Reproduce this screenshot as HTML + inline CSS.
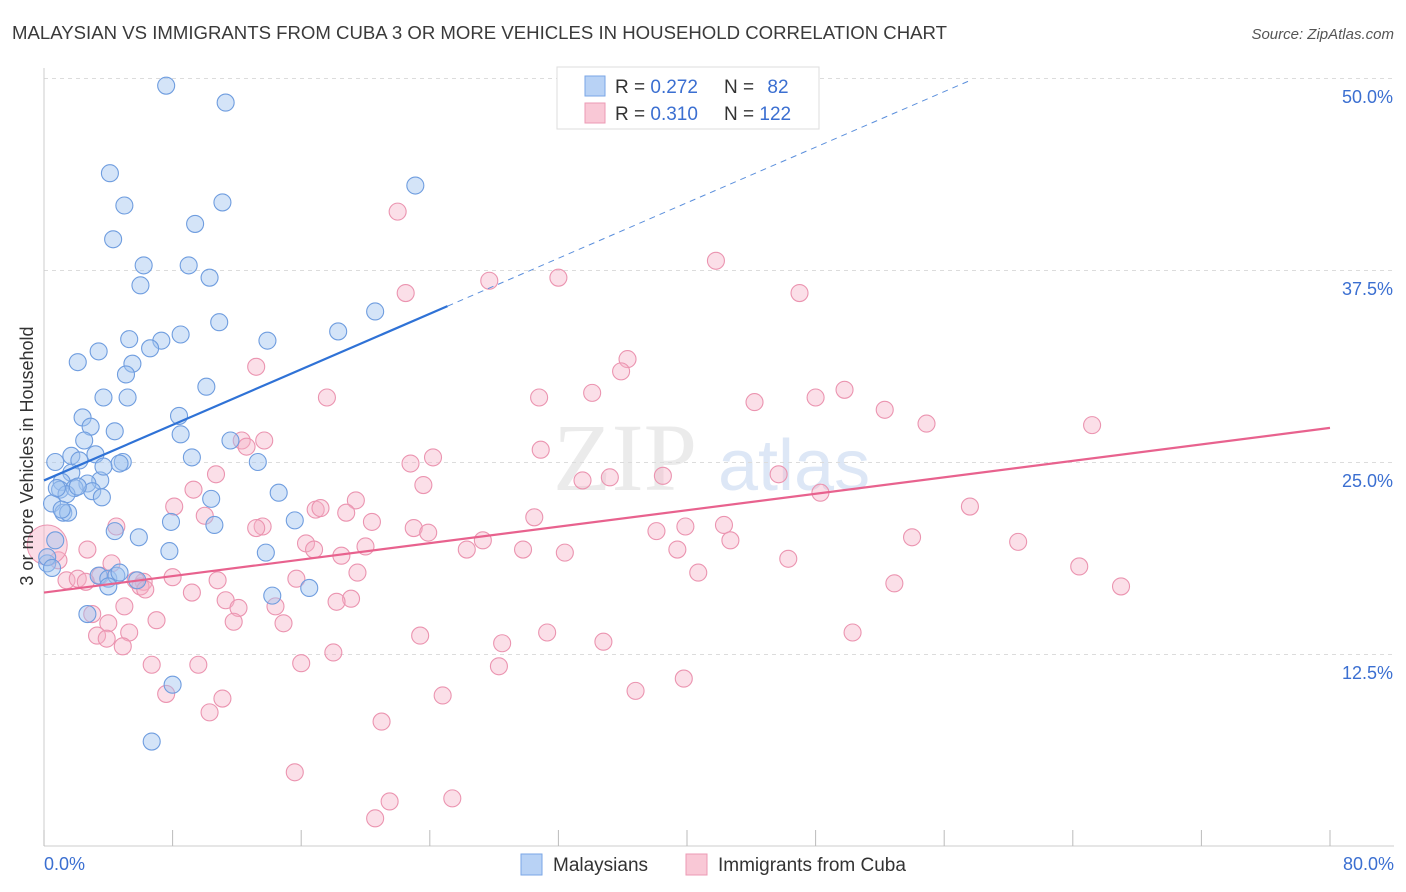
<!DOCTYPE html>
<html><head><meta charset="utf-8">
<style>
body{margin:0;background:#fff;font-family:"Liberation Sans",sans-serif;}
svg{display:block}
</style></head>
<body>
<svg id="chart" width="1406" height="892" viewBox="0 0 1406 892" xmlns="http://www.w3.org/2000/svg">
<text x="12" y="39" font-size="18.6" fill="#3a3a3a" font-family="Liberation Sans, sans-serif">MALAYSIAN VS IMMIGRANTS FROM CUBA 3 OR MORE VEHICLES IN HOUSEHOLD CORRELATION CHART</text>
<text x="1394" y="39" font-size="15" fill="#555" font-style="italic" text-anchor="end">Source: ZipAtlas.com</text>
<g>
<text x="553" y="490" font-size="96" fill="#ebebeb" font-family="Liberation Serif, serif">ZIP</text>
<text x="718" y="490" font-size="72" fill="#dde7f6" font-family="Liberation Sans, sans-serif">atlas</text>
</g>
<g id="grid"></g>
<g id="axes"></g>
<g id="pts"></g>
<g id="lines"></g>
<text transform="translate(33,456) rotate(-90)" font-size="18" fill="#333" text-anchor="middle">3 or more Vehicles in Household</text>
<text x="44" y="870" font-size="18" fill="#3b6fd1">0.0%</text>
<text x="1394" y="870" font-size="18" fill="#3b6fd1" text-anchor="end">80.0%</text>
<g>
<rect x="557" y="67" width="262" height="62" fill="#fff" stroke="#ddd"/>
<rect x="585" y="76" width="20" height="20" fill="#b8d2f5" stroke="#7aa6e6"/>
<rect x="585" y="103" width="20" height="20" fill="#f9c8d6" stroke="#ec9ab4"/>
<text x="615" y="93" font-size="19" fill="#333">R = <tspan fill="#3b6fd1">0.272</tspan></text>
<text x="724" y="93" font-size="19" fill="#333">N = <tspan fill="#3b6fd1" dx="8">82</tspan></text>
<text x="615" y="120" font-size="19" fill="#333">R = <tspan fill="#3b6fd1">0.310</tspan></text>
<text x="724" y="120" font-size="19" fill="#333">N = <tspan fill="#3b6fd1">122</tspan></text>
</g>
<g>
<rect x="521" y="854" width="21" height="21" fill="#b8d2f5" stroke="#7aa6e6"/>
<text x="553" y="871" font-size="19" fill="#333">Malaysians</text>
</g>
<g>
<rect x="686" y="854" width="21" height="21" fill="#f9c8d6" stroke="#ec9ab4"/>
<text x="718" y="871" font-size="19" fill="#333">Immigrants from Cuba</text>
</g>
</svg>
<script>
const yTicks=[12.5,25.0,37.5,50.0];
const xTickCount=10;
const blueX=[7.6,11.3,4.1,23.1,5.0,11.1,9.4,4.3,6.2,9.0,6.0,10.3,20.6,10.9,18.3,8.5,13.9,7.3,5.3,3.4,2.1,5.5,6.6,5.1,10.1,3.7,5.2,8.4,2.4,2.9,4.4,8.5,2.5,11.6,1.7,3.2,2.2,0.7,4.9,4.7,13.3,9.2,1.7,3.5,1.1,2.7,1.0,1.9,3.0,1.4,3.6,14.6,10.4,0.5,1.2,1.5,15.6,7.9,10.6,4.4,5.9,0.7,13.8,7.8,0.2,3.4,4.0,4.5,4.7,4.0,5.8,14.2,16.5,2.7,8.0,6.7,0.2,1.1,0.8,2.1,3.7,0.5];
const blueY=[49.5,48.4,43.8,43.0,41.7,41.9,40.5,39.5,37.8,37.8,36.5,37.0,34.8,34.1,33.5,33.3,32.9,32.9,33.0,32.2,31.5,31.4,32.4,30.7,29.9,29.2,29.2,28.0,27.9,27.3,27.0,26.8,26.4,26.4,25.4,25.5,25.1,25.0,25.0,24.9,25.0,25.3,24.3,23.8,23.7,23.6,23.2,23.3,23.1,22.9,22.7,23.0,22.6,22.3,21.7,21.7,21.2,21.1,20.9,20.5,20.1,19.9,19.1,19.2,18.4,17.6,17.4,17.6,17.8,16.9,17.3,16.3,16.8,15.1,10.5,6.8,18.8,21.9,23.3,23.4,24.7,18.1];
const pinkX=[22.0,41.8,27.7,32.0,22.5,47.0,36.3,35.9,13.2,17.6,30.8,34.1,49.8,48.0,44.2,52.3,54.9,65.2,13.7,12.3,12.6,30.9,24.2,22.8,10.7,45.7,38.5,33.5,35.2,23.6,48.3,9.3,19.4,8.1,16.9,17.2,18.8,10.0,57.6,30.5,20.4,13.6,13.2,4.5,23.0,23.9,42.3,39.9,38.1,16.3,42.7,20.0,27.3,54.0,60.6,26.3,16.8,29.8,32.4,39.4,18.5,2.7,0.9,4.2,46.3,64.4,19.5,3.5,15.7,8.0,40.7,1.4,2.1,2.6,10.8,6.2,6.0,5.7,67.0,52.9,6.3,19.1,9.2,11.3,12.1,18.2,5.0,14.4,7.0,11.8,14.9,3.0,4.0,5.3,3.3,3.9,23.4,31.3,28.5,34.8,50.3,4.9,6.7,9.6,16.0,18.0,28.3,39.8,7.6,11.1,10.3,24.8,36.8,21.0,15.6,21.5,25.4,20.6];
const pinkY=[41.3,38.1,36.8,37.0,36.0,36.0,31.7,30.9,31.2,29.2,29.2,29.5,29.7,29.2,28.9,28.4,27.5,27.4,26.4,26.4,26.0,25.8,25.3,24.9,24.2,24.2,24.1,23.8,24.0,23.5,23.0,23.2,22.5,22.1,21.9,22.0,21.7,21.5,22.1,21.4,21.1,20.8,20.7,20.8,20.7,20.4,20.9,20.8,20.5,19.7,19.9,19.5,19.9,20.1,19.8,19.3,19.3,19.3,19.1,19.3,18.9,19.3,18.6,18.4,18.7,18.2,17.8,17.6,17.4,17.5,17.8,17.3,17.4,17.2,17.3,17.2,16.9,17.3,16.9,17.1,16.7,16.1,16.5,16.0,15.5,15.9,15.6,15.6,14.7,14.6,14.5,15.1,14.5,13.9,13.7,13.5,13.7,13.9,13.2,13.3,13.9,13.0,11.8,11.8,11.9,12.6,11.7,10.9,9.9,9.6,8.7,9.8,10.1,8.1,4.8,2.9,3.1,1.8];
const bigPink=[0.2,19.6];
const blueTrend=[23.8,0.452];
const pinkTrend=[16.5,0.134];
const blueSolidEnd=25.1;

const NS="http://www.w3.org/2000/svg";
const X0=44,X1=1330,Y0=846,PXPER=192/12.5;
function sx(v){return X0+(v/80)*(X1-X0);}
function sy(v){return Y0-v*PXPER;}
function mk(tag,attrs,parent){const e=document.createElementNS(NS,tag);for(const k in attrs)e.setAttribute(k,attrs[k]);parent.appendChild(e);return e;}
const grid=document.getElementById('grid'),axes=document.getElementById('axes'),pts=document.getElementById('pts'),lines=document.getElementById('lines');
const svg=document.getElementById('chart');
yTicks.forEach(t=>{
  const l=mk('line',{x1:X0,x2:1394,y1:sy(t)+0.5,y2:sy(t)+0.5,stroke:'#dcdcdc','stroke-dasharray':'4 4'},grid);
  
  
  const tx=mk('text',{x:1393,y:sy(t)+25,'font-size':18,fill:'#3b6fd1','text-anchor':'end'},svg);
  tx.textContent=t.toFixed(1)+'%';
  
  
});
mk('line',{x1:X0,x2:X0,y1:68,y2:Y0,stroke:'#ccc'},axes);
mk('line',{x1:X0,x2:1394,y1:Y0,y2:Y0,stroke:'#ccc'},axes);
for(let i=0;i<=xTickCount;i++){
  const v=i*80/xTickCount;
  const t=mk('line',{x1:sx(v),x2:sx(v),y1:830,y2:Y0,stroke:'#bbb'},axes);
  
  
}
pinkX.forEach((x,i)=>{
  const c=mk('circle',{cx:sx(x),cy:sy(pinkY[i]),r:8.5,fill:'rgba(246,175,198,0.4)',stroke:'#eb94b0','stroke-width':1.1},pts);
  
  
});
const bp=mk('circle',{cx:sx(bigPink[0]),cy:sy(bigPink[1]),r:20,fill:'rgba(246,175,198,0.45)',stroke:'#eb94b0'},pts);


blueX.forEach((x,i)=>{
  const c=mk('circle',{cx:sx(x),cy:sy(blueY[i]),r:8.5,fill:'rgba(160,195,240,0.45)',stroke:'#6f9ddf','stroke-width':1.1},pts);
  
  
});
const bl=mk('line',{x1:sx(0),y1:sy(blueTrend[0]),x2:sx(blueSolidEnd),y2:sy(blueTrend[0]+blueTrend[1]*blueSolidEnd),stroke:'#2f72d6','stroke-width':2.2},lines);


const xe=(49.9-blueTrend[0])/blueTrend[1];
const bd=mk('line',{x1:sx(blueSolidEnd),y1:sy(blueTrend[0]+blueTrend[1]*blueSolidEnd),x2:sx(xe),y2:sy(blueTrend[0]+blueTrend[1]*xe),stroke:'#5b8fdc','stroke-width':1,'stroke-dasharray':'6 5'},lines);


const pl=mk('line',{x1:sx(0),y1:sy(pinkTrend[0]),x2:sx(80),y2:sy(pinkTrend[0]+pinkTrend[1]*80),stroke:'#e8628e','stroke-width':2.2},lines);


</script>
</body></html>
